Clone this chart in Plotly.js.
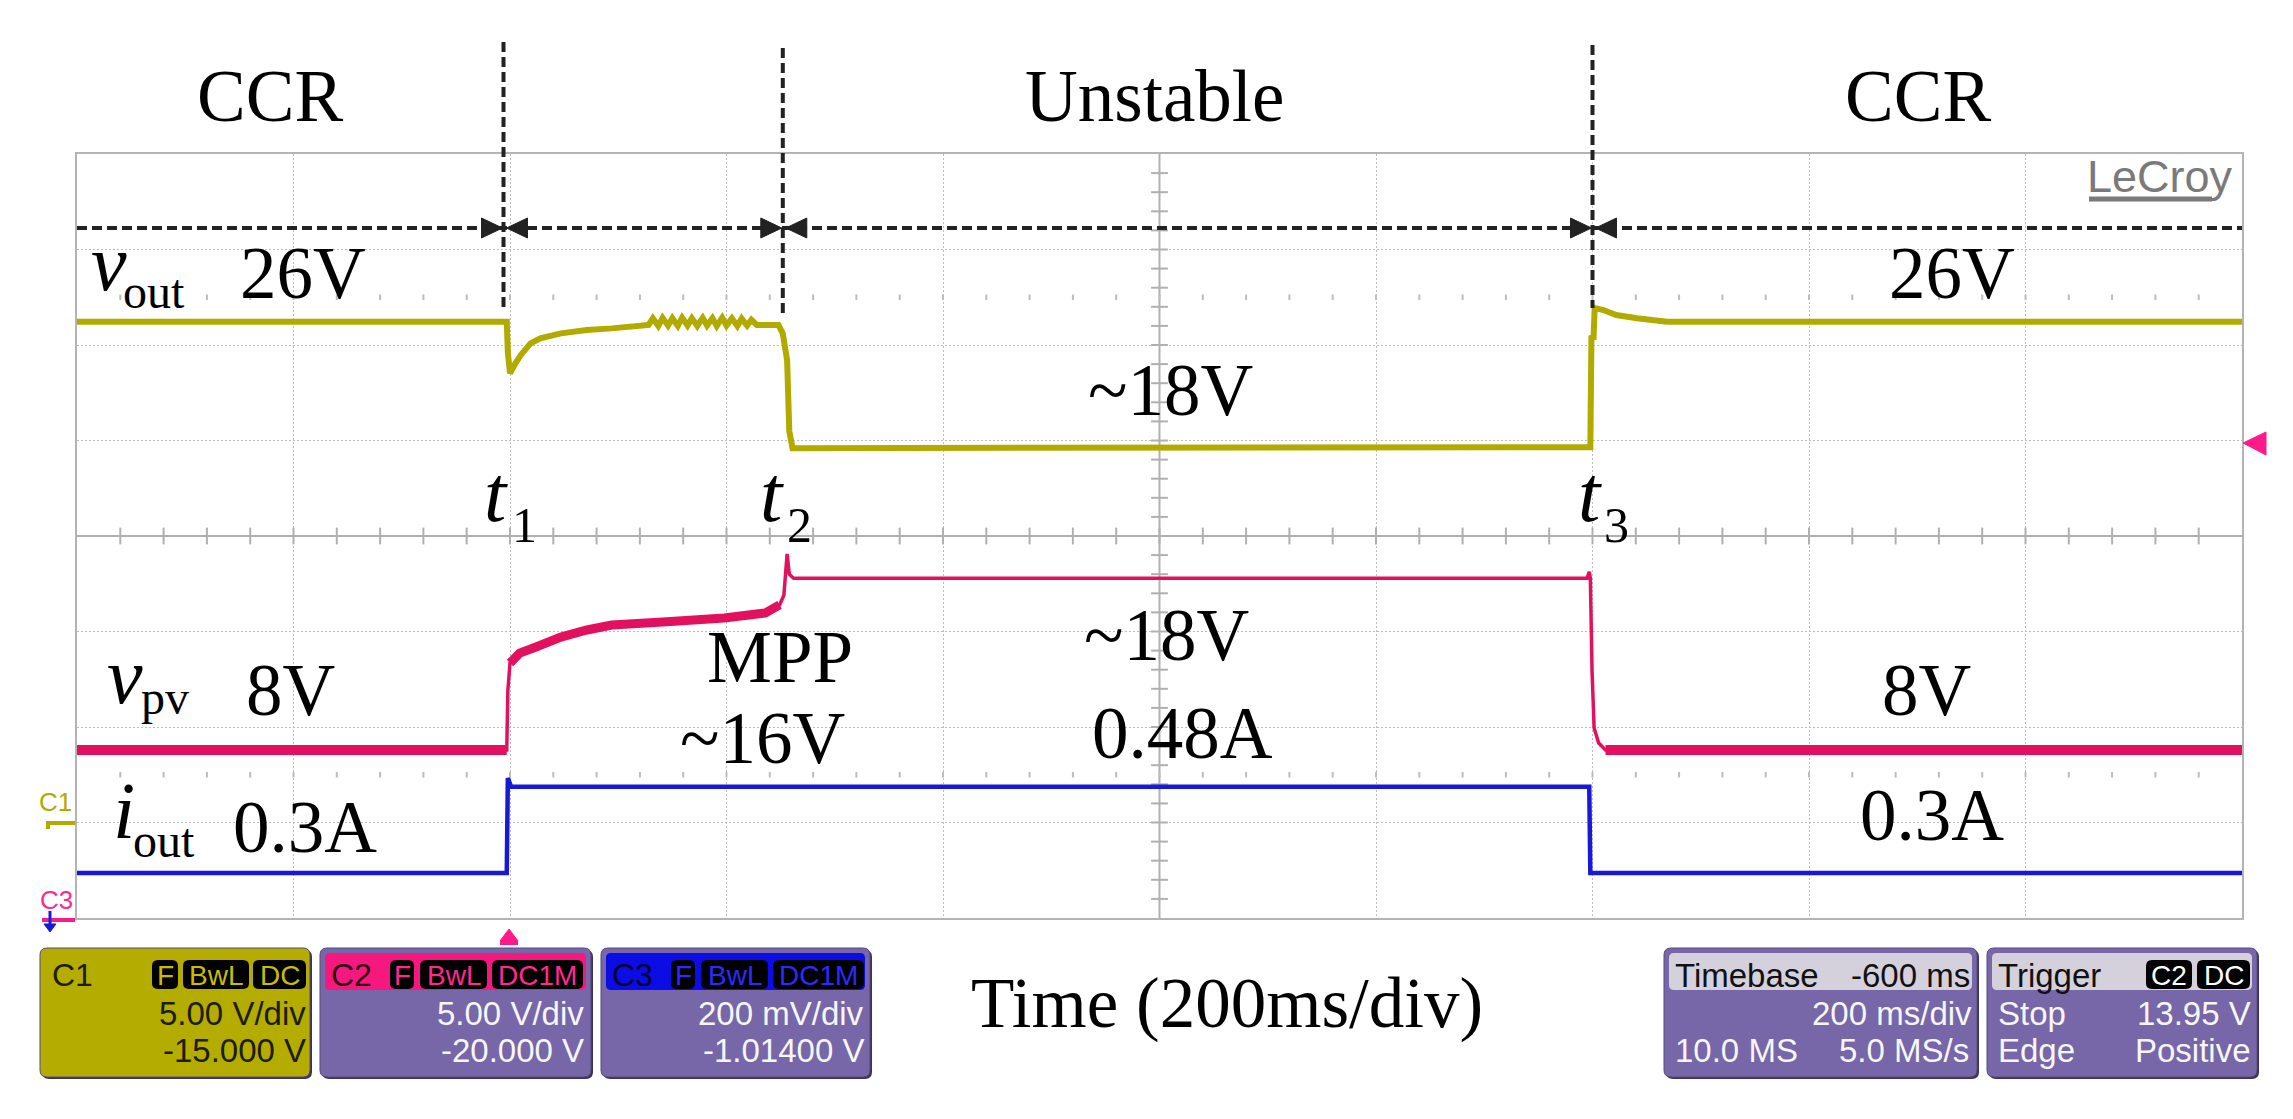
<!DOCTYPE html>
<html>
<head>
<meta charset="utf-8">
<script src="https://cdn.plot.ly/plotly-3.0.1.min.js"></script>
<style>
html,body{margin:0;padding:0;background:#ffffff;}
#chart{width:2293px;height:1119px;}
</style>
</head>
<body>
<div id="chart"></div>
<script>
// ---------------- DATA ----------------
// Channel settings (from the scope panels)
const chNames        = ['C1', 'C2', 'C3'];
const chVoltsPerDiv  = [5.00, 5.00, 0.200];
const chOffset       = [-15.000, -20.000, -1.01400];
const chScaleText    = ['5.00 V/div', '5.00 V/div', '200 mV/div'];
const chOffsetText   = ['-15.000 V', '-20.000 V', '-1.01400 V'];
const timebaseText   = ['Timebase', '-600 ms', '200 ms/div', '10.0 MS', '5.0 MS/s'];
const triggerText    = ['Trigger', 'C2', 'DC', 'Stop', '13.95 V', 'Edge', 'Positive'];
const timeRange      = [-400, 1600];   // ms, 200 ms/div, trigger 2 div from the left
const timePerDiv     = 200;

// C1 : v_out  (time in ms, value in V)
const voutTime = [-400, -3, -2, 0, 5, 10, 19, 28, 47, 71, 94, 118,
  128, 132, 137, 141, 146, 150, 155, 159, 164, 168, 173, 178, 182, 187, 191, 196, 200, 205, 210, 214, 219, 223, 228,
  248, 252, 256, 258, 261, 995, 998, 999, 1001, 1002, 1010, 1022, 1030, 1041, 1055, 1069, 1600];
const voutVolt = [26.22, 26.22, 24.60, 23.52, 24.04, 24.48, 25.09, 25.35, 25.61, 25.79, 25.87, 26.05,
  26.05, 26.40, 26.00, 26.42, 26.02, 26.40, 26.00, 26.43, 26.02, 26.40, 26.00, 26.42, 26.02, 26.40, 26.00, 26.43, 26.02, 26.40, 26.00, 26.38, 26.02, 26.32, 26.05,
  26.05, 25.60, 24.20, 20.50, 19.60, 19.60, 19.65, 25.37, 25.40, 26.94, 26.83, 26.57, 26.47, 26.40, 26.31, 26.22, 26.22];

// C2 : v_pv
const vpvTime = [-400, -3, -2, 0, 2, 9, 24, 47, 71, 94, 141, 198, 236, 249, 253, 256, 258, 262, 995, 997, 998, 999.6, 1001.5, 1005.7, 1012, 1600];
const vpvVolt = [8.80, 8.80, 11.90, 13.35, 13.50, 13.87, 14.19, 14.71, 15.08, 15.34, 15.50, 15.71, 15.97, 16.39, 16.90, 19.06, 18.00, 17.79, 17.79, 18.13, 17.79, 12.90, 9.95, 9.16, 8.80, 8.80];

// C3 : i_out (current probe output)
const ioutTime = [-400, -3, -2, 1, 997, 998, 1600];
const ioutVolt = [0.308, 0.308, 0.507, 0.489, 0.489, 0.308, 0.308];

// Annotation texts
const regionNames = ['CCR', 'Unstable', 'CCR'];
const eventTimes  = [-6, 252, 1000];       // t1, t2, t3 (ms)
const eventSubs   = ['1', '2', '3'];

// ---------------- helpers ----------------
const toDiv = (arr, ch) => arr.map(v => (v + chOffset[ch]) / chVoltsPerDiv[ch]);
function seg(t, v, lo, hi) {
  const x = [], y = [];
  t.forEach((tt, i) => { if (tt >= lo && tt <= hi) { x.push(tt); y.push(v[i]); } });
  return {x, y};
}
// plot-area pixel geometry -> paper coordinates
const PL = 77, PR = 2242, PT = 154, PB = 918, W = 2293, H = 1119;
const fx = x => (x - PL) / (PR - PL);
const fy = y => (PB - y) / (PB - PT);
const tpx = t => PL + (t - timeRange[0]) / (timeRange[1] - timeRange[0]) * (PR - PL);

const SERIF = 'Liberation Serif, Times New Roman, serif';
const SANS  = 'Liberation Sans, Arial, sans-serif';

const shapes = [];
const annotations = [];

function label(text, x, base, size, anchor, color, family) {
  const fam = family || SERIF;
  const k = fam === SERIF ? 0.3375 : 0.3465;
  annotations.push({xref: 'paper', yref: 'paper', x: fx(x), y: fy(base - k * size),
    xanchor: anchor || 'center', yanchor: 'middle', text: text, showarrow: false, borderpad: 0,
    font: {family: fam, size: size, color: color || '#000000'}});
}
function boxText(text, x, cy, size, anchor, color) {
  annotations.push({xref: 'paper', yref: 'paper', x: fx(x), y: fy(cy),
    xanchor: anchor || 'left', yanchor: 'middle', text: text, showarrow: false,
    font: {family: SANS, size: size, color: color}});
}
function P(x, y) { return fx(x).toFixed(5) + ',' + fy(y).toFixed(5); }
function rrect(x0, y0, x1, y1, r) {
  return 'M' + P(x0 + r, y0) + ' L' + P(x1 - r, y0) + ' Q' + P(x1, y0) + ' ' + P(x1, y0 + r) +
    ' L' + P(x1, y1 - r) + ' Q' + P(x1, y1) + ' ' + P(x1 - r, y1) +
    ' L' + P(x0 + r, y1) + ' Q' + P(x0, y1) + ' ' + P(x0, y1 - r) +
    ' L' + P(x0, y0 + r) + ' Q' + P(x0, y0) + ' ' + P(x0 + r, y0) + ' Z';
}
function pathShape(path, fill, lineColor, lineWidth) {
  shapes.push({type: 'path', xref: 'paper', yref: 'paper', path: path, fillcolor: fill,
    line: {color: lineColor || fill, width: lineWidth === undefined ? 0 : lineWidth}, layer: 'above'});
}
function pxLine(x0, y0, x1, y1, color, width, dash) {
  shapes.push({type: 'line', xref: 'paper', yref: 'paper', x0: fx(x0), y0: fy(y0), x1: fx(x1), y1: fy(y1),
    line: {color: color, width: width, dash: dash || 'solid'}, layer: 'above'});
}
function tri(a, b, c, color) {
  pathShape('M' + P(a[0], a[1]) + ' L' + P(b[0], b[1]) + ' L' + P(c[0], c[1]) + ' Z', color, color, 1);
}

// ---------------- colours ----------------
const YEL = '#b3aa00', PINK = '#e2115f', PINKUI = '#f5197f', BLUE = '#1818d8';
const PURPLE = '#7766a8', GRAYHDR = '#d5d1dc';

// ---------------- grid decorations ----------------
const tickX = [], tickY0 = [], vtX = [], vtY = [], dotX = [], dotY = [];
for (let t = timeRange[0] + timePerDiv / 5; t < timeRange[1]; t += timePerDiv / 5) {
  tickX.push(t); tickY0.push(0);
  dotX.push(t, t); dotY.push(2.5, -2.5);
}
for (let d = -4 + 0.2; d < 4 - 1e-9; d += 0.2) { vtX.push(600); vtY.push(d); }
// centre axes
shapes.push({type: 'line', xref: 'x', yref: 'y', x0: timeRange[0], x1: timeRange[1], y0: 0, y1: 0,
  line: {color: '#b0b0b0', width: 2}, layer: 'between'});
shapes.push({type: 'line', xref: 'x', yref: 'y', x0: 600, x1: 600, y0: -4, y1: 4,
  line: {color: '#b0b0b0', width: 2}, layer: 'between'});

// ---------------- traces ----------------
const traces = [];
traces.push({x: tickX, y: tickY0, mode: 'markers', hoverinfo: 'skip',
  marker: {symbol: 'line-ns', size: 12, line: {color: '#b0b0b0', width: 2}}});
traces.push({x: vtX, y: vtY, mode: 'markers', hoverinfo: 'skip',
  marker: {symbol: 'line-ew', size: 12, line: {color: '#b0b0b0', width: 2}}});
traces.push({x: dotX, y: dotY, mode: 'markers', hoverinfo: 'skip',
  marker: {symbol: 'line-ns', size: 4, line: {color: '#bdbdbd', width: 2}}});

// C1 v_out
traces.push({x: voutTime, y: toDiv(voutVolt, 0), mode: 'lines', line: {color: YEL, width: 6}, hoverinfo: 'skip'});

// C2 v_pv : thin core + noise bands
traces.push({x: vpvTime, y: toDiv(vpvVolt, 1), mode: 'lines', line: {color: PINK, width: 3.5}, hoverinfo: 'skip'});
[[-400, -3, 10], [0, 249, 9], [1006, 1600, 10]].forEach(r => {
  const s = seg(vpvTime, vpvVolt, r[0], r[1]);
  traces.push({x: s.x, y: toDiv(s.y, 1), mode: 'lines', line: {color: PINK, width: r[2]}, hoverinfo: 'skip'});
});

// C3 i_out
traces.push({x: ioutTime, y: toDiv(ioutVolt, 2), mode: 'lines', line: {color: BLUE, width: 4.5}, hoverinfo: 'skip'});

// ---------------- overlay: dashed event lines & arrows ----------------
const DK = '#222222';
const vTop = [42, 48, 45], vBot = [307, 313, 308];
eventTimes.forEach((t, i) => {
  const x = tpx(t);
  pxLine(x, vTop[i], x, vBot[i], DK, 4, '10px,5px');
});
pxLine(PL, 228, PR, 228, DK, 4, '10px,5px');
function arrowR(tip) { tri([tip, 228], [tip - 21, 218], [tip - 21, 238], DK); }
function arrowL(tip) { tri([tip, 228], [tip + 21, 218], [tip + 21, 238], DK); }
eventTimes.forEach(t => { const x = tpx(t); arrowR(x - 1); arrowL(x + 3); });

// ---------------- text labels ----------------
const S = 73, SI = 80, SS = 48;
label(regionNames[0], 270, 121, S);
label(regionNames[1], 1155, 121, S);
label(regionNames[2], 1918, 121, S);

label('<i>v</i>', 90, 290, SI, 'left');
label('out', 122, 308, SS, 'left');
label('26V', 303, 298, S);
label('26V', 1952, 298, S);
label('~18V', 1170, 415, S);

const tLabelX = [496, 772, 1590], tSubX = [511, 786, 1603];
eventSubs.forEach((s, i) => {
  label('<i>t</i>', tLabelX[i], 521, SI);
  label(s, tSubX[i], 542, 50, 'left');
});

label('<i>v</i>', 106, 703, SI, 'left');
label('pv', 140, 714, SS, 'left');
label('8V', 290, 715, S);
label('8V', 1926, 715, S);

label('<i>i</i>', 112, 838, SI, 'left');
label('out', 132, 857, SS, 'left');
label('0.3A', 305, 852, S);
label('0.3A', 1932, 840, S);

label('MPP', 780, 682, S);
label('~16V', 763, 763, S);
label('~18V', 1166, 660, S);
label('0.48A', 1182, 758, S);

label('Time (200ms/div)', 1227, 1027, 71);

// LeCroy logo
label('LeCroy', 2234, 192, 45, 'right', '#7a7a7a', SANS);
pxLine(2089, 199, 2212, 199, '#7a7a7a', 5);

// ---------------- scope markers ----------------
label(chNames[0], 55, 811, 26, 'center', YEL, SANS);
shapes.push({type: 'path', xref: 'paper', yref: 'paper', path: 'M' + P(48, 829) + ' L' + P(48, 823) + ' L' + P(75, 823),
  line: {color: YEL, width: 4}, layer: 'above'});
label('C3', 56, 909, 26, 'center', '#ff2a8e', SANS);
pxLine(42, 920, 75, 920, '#ff1a8c', 4);
pxLine(50, 911, 50, 925, BLUE, 3);
tri([50, 932], [44, 924], [56, 924], BLUE);

// trigger level (right) and trigger position (bottom)
tri([2243, 443], [2266, 432], [2266, 455], '#ff1a8c');
tri([509, 929], [500, 941], [518, 941], '#ff1a8c');
pathShape('M' + P(500, 940) + ' L' + P(518, 940) + ' L' + P(518, 945) + ' L' + P(500, 945) + ' Z', '#ff1a8c');

// ---------------- info panels ----------------
const ROW1 = 975, ROW2 = 1013, ROW3 = 1050, FS = 33, FB = 28;
function panel(x0, x1, fill, hdrFill) {
  pathShape(rrect(x0 + 2, 950, x1 + 2, 1079, 7), '#3b3358');
  pathShape(rrect(x0, 948, x1, 1077, 7), fill, '#544a7e', 1);
  if (hdrFill) pathShape(rrect(x0 + 5, 953, x1 - 5, 990, 5), hdrFill);
}
function badge(x0, x1, text, color) {
  pathShape(rrect(x0, 960, x1, 989, 6), '#000000');
  annotations.push({xref: 'paper', yref: 'paper', x: fx((x0 + x1) / 2), y: fy(975), xanchor: 'center', yanchor: 'middle',
    text: text, showarrow: false, font: {family: SANS, size: FB, color: color}});
}
// C1
panel(40, 310, '#b4ac00', null);
boxText(chNames[0], 50, ROW1, 32, 'left', '#1c1c00');
badge(152, 178, 'F', '#c8be00'); badge(183, 249, 'BwL', '#c8be00'); badge(253, 306, 'DC', '#c8be00');
boxText(chScaleText[0], 308, ROW2, FS, 'right', '#1c1c00');
boxText(chOffsetText[0], 308, ROW3, FS, 'right', '#1c1c00');
// C2
panel(320, 591, PURPLE, PINKUI);
boxText(chNames[1], 329, ROW1, 32, 'left', '#2a0012');
badge(390, 414, 'F', '#ff2a8e'); badge(420, 487, 'BwL', '#ff2a8e'); badge(492, 583, 'DC1M', '#ff2a8e');
boxText(chScaleText[1], 586, ROW2, FS, 'right', '#f6f6f6');
boxText(chOffsetText[1], 586, ROW3, FS, 'right', '#f6f6f6');
// C3
panel(601, 870, PURPLE, '#0c0ce4');
boxText(chNames[2], 610, ROW1, 32, 'left', '#00002e');
badge(671, 695, 'F', '#2b2bff'); badge(701, 768, 'BwL', '#2b2bff'); badge(773, 864, 'DC1M', '#2b2bff');
boxText(chScaleText[2], 866, ROW2, FS, 'right', '#f6f6f6');
boxText(chOffsetText[2], 866, ROW3, FS, 'right', '#f6f6f6');
// Timebase
panel(1664, 1977, PURPLE, GRAYHDR);
boxText(timebaseText[0], 1673, ROW1, FS, 'left', '#111111');
boxText(timebaseText[1], 1972, ROW1, FS, 'right', '#111111');
boxText(timebaseText[2], 1974, ROW2, FS, 'right', '#f6f6f6');
boxText(timebaseText[3], 1673, ROW3, FS, 'left', '#f6f6f6');
boxText(timebaseText[4], 1971, ROW3, FS, 'right', '#f6f6f6');
// Trigger
panel(1987, 2257, PURPLE, GRAYHDR);
boxText(triggerText[0], 1996, ROW1, FS, 'left', '#111111');
badge(2146, 2192, triggerText[1], '#ffffff'); badge(2197, 2250, triggerText[2], '#ffffff');
boxText(triggerText[3], 1996, ROW2, FS, 'left', '#f6f6f6');
boxText(triggerText[4], 2253, ROW2, FS, 'right', '#f6f6f6');
boxText(triggerText[5], 1996, ROW3, FS, 'left', '#f6f6f6');
boxText(triggerText[6], 2253, ROW3, FS, 'right', '#f6f6f6');

// ---------------- layout ----------------
const axisCommon = {showticklabels: false, ticks: '', zeroline: false, showline: true, mirror: true,
  linecolor: '#b4b4b4', linewidth: 2, showgrid: true, gridcolor: '#bcbcbc', gridwidth: 1,
  griddash: '2px,2px', fixedrange: true};
const layout = {
  width: W, height: H,
  margin: {l: PL, r: W - PR, t: PT, b: H - PB, pad: 0},
  paper_bgcolor: '#ffffff', plot_bgcolor: '#ffffff',
  showlegend: false,
  xaxis: Object.assign({}, axisCommon, {range: timeRange, dtick: timePerDiv, tick0: timeRange[0]}),
  yaxis: Object.assign({}, axisCommon, {range: [-4, 4], dtick: 1, tick0: 0}),
  shapes: shapes,
  annotations: annotations
};
Plotly.newPlot('chart', traces, layout, {staticPlot: true, displayModeBar: false});
</script>
</body>
</html>
